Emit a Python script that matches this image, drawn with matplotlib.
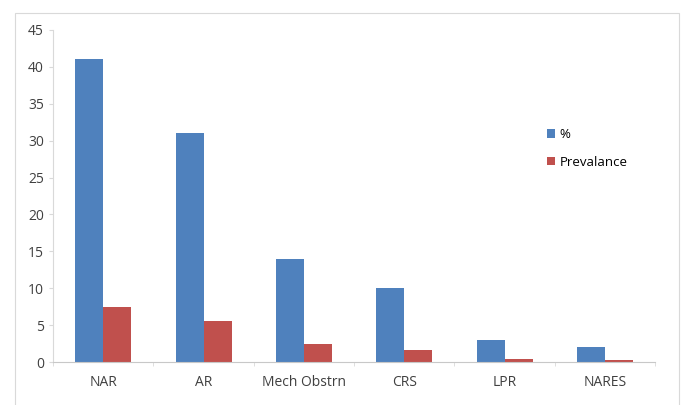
import numpy as np
import matplotlib
matplotlib.use('Agg')
import matplotlib.pyplot as plt
from matplotlib.patches import Rectangle

kategorie = ['NAR', 'AR', 'Mech Obstrn', 'CRS', 'LPR', 'NARES']
procent = [41, 31, 14, 10, 3, 2]
prewalencja = [7.5, 5.6, 2.5, 1.7, 0.4, 0.3]
nazwy_serii = ['%', 'Prevalance']

plt.rcParams['font.family'] = ['Open Sans', 'DejaVu Sans']

fig = plt.figure(figsize=(6.81, 4.05), dpi=100)
ax = fig.add_axes([0.078, 0.106, 0.884, 0.82])

# ramka wokol calego wykresu
fig.patches.append(Rectangle((0.022, -0.01), 0.975, 0.978, transform=fig.transFigure,
                             fill=False, edgecolor='#d9d9d9', linewidth=0.8))

x = np.arange(len(kategorie))
szer = 0.28
ax.bar(x - szer / 2, procent, szer, color='#4F81BD', label=nazwy_serii[0])
ax.bar(x + szer / 2, prewalencja, szer, color='#C0504D', label=nazwy_serii[1])

ax.set_xlim(-0.5, len(kategorie) - 0.5)
ax.set_ylim(0, 45)
ax.set_yticks(range(0, 46, 5))
ax.set_xticks(x)
ax.set_xticklabels(kategorie)
ax.set_xticks(np.arange(-0.5, len(kategorie), 1), minor=True)
ax.tick_params(axis='x', which='major', length=0, pad=9, labelsize=10, colors='#404040')
ax.tick_params(axis='x', which='minor', length=3, color='#d9d9d9')
ax.tick_params(axis='y', length=3, color='#d9d9d9', labelsize=10, labelcolor='#404040')

for s in ['top', 'right']:
    ax.spines[s].set_visible(False)
ax.spines['left'].set_color('#d9d9d9')
ax.spines['bottom'].set_color('#c8c8c8')

ax.legend(loc='upper left', bbox_to_anchor=(0.8, 0.74), frameon=False, fontsize=9.5,
          handlelength=0.6, handleheight=0.6, handletextpad=0.4, labelspacing=1.1)

plt.savefig('out.png', dpi=100)
